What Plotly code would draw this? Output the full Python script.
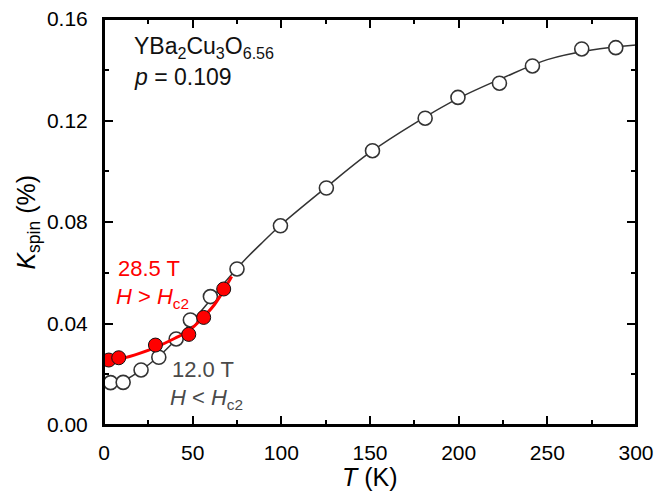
import plotly.graph_objects as go

# 12.0 T data (open circles)
T_12 = [3.7, 10.8, 20.9, 30.9, 40.7, 48.7, 60.0, 75.0, 99.5, 125.4, 151.4, 181.1, 199.6, 223.0, 241.6, 269.4, 288.6]
K_12 = [0.0167, 0.0168, 0.0217, 0.0267, 0.0339, 0.0414, 0.0506, 0.0615, 0.0785, 0.0934, 0.1081, 0.1209, 0.1291, 0.1347, 0.1415, 0.1482, 0.1487]

# 28.5 T data (red filled)
T_28 = [2.7, 8.3, 29.0, 47.8, 56.2, 67.5]
K_28 = [0.0256, 0.0265, 0.0315, 0.0357, 0.0424, 0.0536]

# fit curve (12.0 T)
T_fit12 = [0, 10, 20, 30, 40, 50, 60, 70, 80, 90, 100, 125, 150, 175, 200, 225, 250, 275, 300]
K_fit12 = [0.0165, 0.0172, 0.0212, 0.0265, 0.0332, 0.0410, 0.0493, 0.0577, 0.0655, 0.0724, 0.0790, 0.0935, 0.1074, 0.1188, 0.1288, 0.1368, 0.1440, 0.1478, 0.1498]

# fit curve (28.5 T)
T_fit28 = [0, 10, 20, 30, 40, 48, 56, 62, 67, 72]
K_fit28 = [0.0253, 0.0262, 0.0282, 0.0309, 0.0342, 0.0372, 0.0425, 0.0472, 0.0525, 0.0585]

x_ticks = [0, 50, 100, 150, 200, 250, 300]
y_ticks = [0.00, 0.04, 0.08, 0.12, 0.16]

FONT = "Liberation Sans, Arial, sans-serif"
GRAY = "#333333"
RED = "#ff0000"

W, H = 666, 491
L, R, T, B = 103.5, 636, 19, 425
def X(px):
    return (px - L) / (R - L)
def Y(py):
    return (B - py) / (B - T)

fig = go.Figure()
fig.add_trace(go.Scatter(x=T_fit12, y=K_fit12, mode="lines", line=dict(color=GRAY, width=1.5, shape="spline"), showlegend=False))
fig.add_trace(go.Scatter(x=T_12, y=K_12, mode="markers",
                         marker=dict(symbol="circle", size=14, color="white", line=dict(color=GRAY, width=1.6)),
                         showlegend=False))
fig.add_trace(go.Scatter(x=T_fit28, y=K_fit28, mode="lines", line=dict(color=RED, width=3, shape="spline"), showlegend=False))
fig.add_trace(go.Scatter(x=T_28, y=K_28, mode="markers",
                         marker=dict(symbol="circle", size=14, color=RED, line=dict(color="#111111", width=1)),
                         showlegend=False))

axis_common = dict(showline=True, linewidth=2, linecolor="black", mirror="ticks",
                   ticks="inside", ticklen=9, tickwidth=2, tickcolor="black",
                   showgrid=False, zeroline=False, ticklabeloverflow="allow",
                   tickfont=dict(family=FONT, size=21, color="black"))

fig.update_xaxes(range=[0, 300], tickvals=x_ticks, ticktext=[str(v) for v in x_ticks],
                 minor=dict(ticks="inside", ticklen=5, tickwidth=2, dtick=25, tick0=0, tickcolor="black"),
                 ticklabelstandoff=8, **axis_common)
fig.update_yaxes(range=[0, 0.16], tickvals=y_ticks, ticktext=[f"{v:.2f}" for v in y_ticks],
                 minor=dict(ticks="inside", ticklen=5, tickwidth=2, dtick=0.02, tick0=0, tickcolor="black"),
                 ticklabelstandoff=10, **axis_common)

# frame around the plot area
fig.add_shape(type="rect", xref="paper", yref="paper", x0=0, x1=1, y0=0, y1=1,
              line=dict(color="black", width=2), layer="above")

def ann(text, px, py, color="black", size=22, **kw):
    d = dict(text=text, x=X(px), y=Y(py), xref="paper", yref="paper",
             xanchor="left", yanchor="middle", showarrow=False,
             font=dict(family=FONT, size=size, color=color))
    d.update(kw)
    fig.add_annotation(**d)

ann("YBa<sub>2</sub>Cu<sub>3</sub>O<sub>6.56</sub>", 132, 48, color="#111111", size=23)
ann("<i>p</i> = 0.109", 132, 77, color="#111111", size=23)
ann("28.5 T", 116, 268, color=RED)
ann("<i>H</i> > <i>H</i><sub>c2</sub>", 114, 298, color=RED)
ann("12.0 T", 170, 369, color="#4a4a4a")
ann("<i>H</i> < <i>H</i><sub>c2</sub>", 168, 399, color="#4a4a4a")

# axis titles
fig.add_annotation(text="<i>T</i> (K)", x=0.5, y=Y(477), xref="paper", yref="paper",
                   xanchor="center", yanchor="middle", showarrow=False,
                   font=dict(family=FONT, size=25, color="black"))
fig.add_annotation(text="<i>K</i><sub>spin</sub> (%)", x=X(27), y=0.5, xref="paper", yref="paper",
                   xanchor="center", yanchor="middle", showarrow=False, textangle=-90,
                   font=dict(family=FONT, size=25, color="black"))

fig.update_layout(width=W, height=H,
                  margin=dict(l=L, r=W - R, t=T, b=H - B, autoexpand=False),
                  plot_bgcolor="white", paper_bgcolor="white")

fig.write_html("out.html", config={"displayModeBar": False},
               post_script="document.body.style.margin='0';document.body.style.overflow='hidden';")
